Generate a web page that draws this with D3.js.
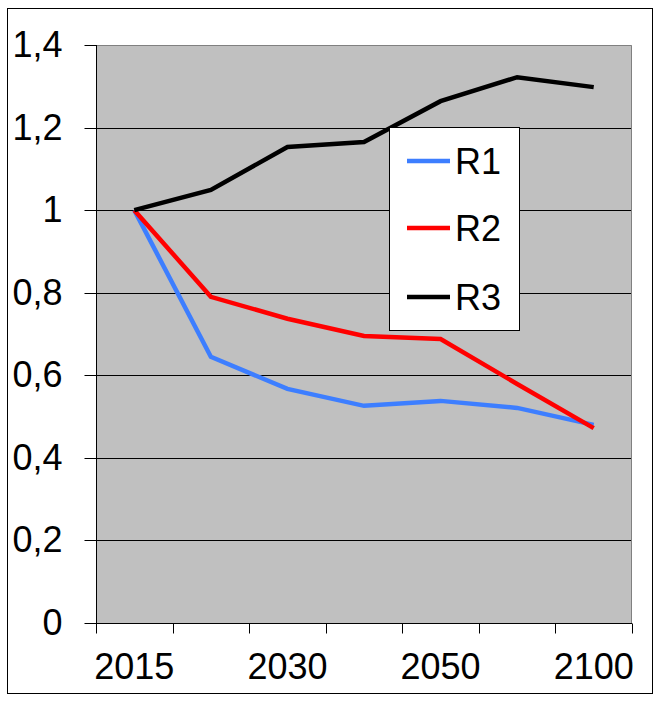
<!DOCTYPE html>
<html>
<head>
<meta charset="utf-8">
<script src="https://cdn.jsdelivr.net/npm/d3@7"></script>
<style>
  html, body { margin: 0; padding: 0; background: #fff; }
  svg { display: block; }
  text { font-family: Arial, "Liberation Sans", sans-serif; fill: #000; }
</style>
</head>
<body>
<svg id="chart" width="661" height="701"></svg>
<script>
// ---- data ----
const categories = ["2015", "2020", "2030", "2040", "2050", "2075", "2100"];
const xTickLabels = ["2015", "", "2030", "", "2050", "", "2100"];
const seriesNames = ["R1", "R2", "R3"];
const r1 = [1.0, 0.645, 0.567, 0.526, 0.538, 0.521, 0.480];
const r2 = [1.0, 0.790, 0.737, 0.695, 0.688, 0.579, 0.472];
const r3 = [1.0, 1.049, 1.153, 1.165, 1.264, 1.322, 1.298];
const yTicks = [0, 0.2, 0.4, 0.6, 0.8, 1.0, 1.2, 1.4];
const colors = ["#3D7EFF", "#FF0000", "#000000"];

const series = [r1, r2, r3];

const svg = d3.select("#chart");

// outer frame
svg.append("rect").attr("x", 7.5).attr("y", 8.5).attr("width", 645).attr("height", 685)
  .attr("fill", "#fff").attr("stroke", "#000").attr("stroke-width", 1);

const plot = { left: 96, right: 632, top: 45, bottom: 623 };

const x = d3.scaleBand().domain(categories).range([plot.left, plot.right]).padding(0);
const y = d3.scaleLinear().domain([0, 1.4]).range([plot.bottom, plot.top]);

// plot background
svg.append("rect").attr("x", plot.left).attr("y", plot.top)
  .attr("width", plot.right - plot.left).attr("height", plot.bottom - plot.top)
  .attr("fill", "#C0C0C0");

// gridlines
svg.append("g").selectAll("line").data(yTicks.filter(d => d > 0 && d < 1.4)).join("line")
  .attr("x1", plot.left).attr("x2", plot.right)
  .attr("y1", d => Math.round(y(d)) + 0.5).attr("y2", d => Math.round(y(d)) + 0.5)
  .attr("stroke", "#000").attr("stroke-width", 1);

// plot border top/right (gray)
svg.append("path")
  .attr("d", `M${plot.left},${plot.top + 0.5}H${plot.right - 0.5}V${plot.bottom}`)
  .attr("fill", "none").attr("stroke", "#808080").attr("stroke-width", 1);

// y axis
const fmt = d => d3.format("~g")(+d.toFixed(1)).replace(".", ",");
const yAxis = svg.append("g").attr("transform", `translate(${plot.left + 0.5},0)`)
  .call(d3.axisLeft(y).tickValues(yTicks).tickFormat(fmt).tickSize(12).tickPadding(22));
yAxis.select(".domain").attr("stroke", "#000").attr("d", `M0,${plot.top}V${plot.bottom}`);
yAxis.selectAll(".tick line").attr("stroke", "#000");
yAxis.selectAll(".tick text").attr("font-size", 36).attr("font-family", "Arial, 'Liberation Sans', sans-serif").attr("fill", "#000");
yAxis.selectAll(".tick").attr("transform", d => `translate(0,${Math.round(y(d)) + 0.5})`);

// x axis
const xAxis = svg.append("g").attr("transform", `translate(0,${plot.bottom + 0.5})`)
  .call(d3.axisBottom(x).tickFormat((d, i) => xTickLabels[i]).tickSize(0).tickPadding(30));
xAxis.select(".domain").attr("stroke", "#000").attr("d", `M${plot.left},0H${plot.right}`);
xAxis.selectAll(".tick text").attr("font-size", 36).attr("font-family", "Arial, 'Liberation Sans', sans-serif").attr("fill", "#000");
// boundary ticks
const edges = categories.map(c => x(c)).concat([x(categories[categories.length - 1]) + x.bandwidth()]);
xAxis.append("g").selectAll("line").data(edges).join("line")
  .attr("x1", d => Math.round(d) + 0.5).attr("x2", d => Math.round(d) + 0.5)
  .attr("y1", 0).attr("y2", 10).attr("stroke", "#000");

// lines
const line = d3.line().x((d, i) => x(categories[i]) + x.bandwidth() / 2).y(d => y(d));
svg.append("g").selectAll("path").data(series).join("path")
  .attr("d", d => line(d))
  .attr("fill", "none")
  .attr("stroke", (d, i) => colors[i])
  .attr("stroke-width", 4.5)
  .attr("stroke-linejoin", "miter");

// legend
const lg = svg.append("g");
lg.append("rect").attr("x", 389.5).attr("y", 127.5).attr("width", 130).attr("height", 203)
  .attr("fill", "#fff").attr("stroke", "#000").attr("stroke-width", 1);
const legendRowY = [161, 228, 297];
seriesNames.forEach((name, i) => {
  lg.append("line").attr("x1", 407).attr("x2", 450)
    .attr("y1", legendRowY[i]).attr("y2", legendRowY[i])
    .attr("stroke", colors[i]).attr("stroke-width", 4.5);
  lg.append("text").attr("x", 455).attr("y", legendRowY[i] + 12.5)
    .attr("font-size", 36).text(name);
});
</script>
</body>
</html>
